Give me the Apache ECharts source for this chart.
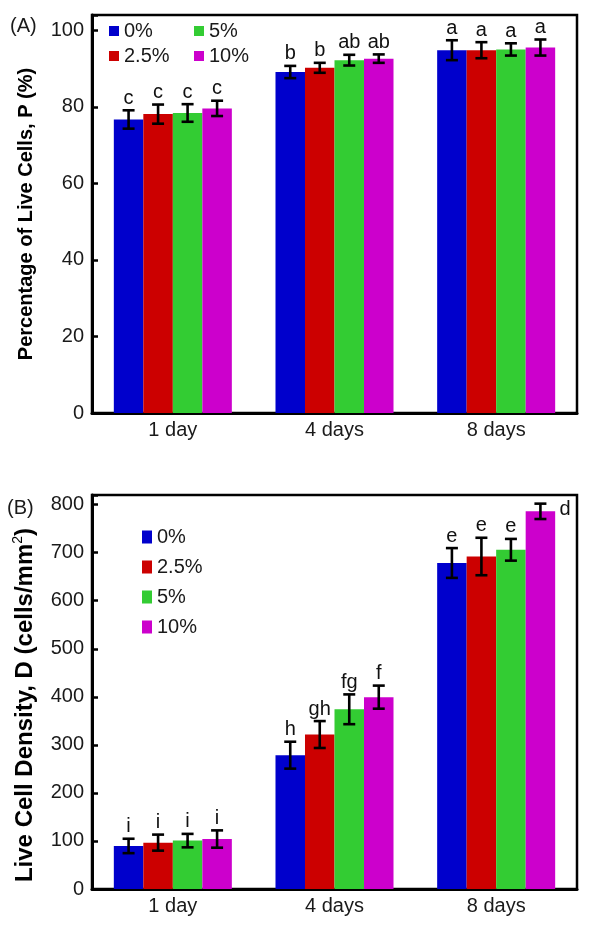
<!DOCTYPE html>
<html>
<head>
<meta charset="utf-8">
<script src="https://cdn.jsdelivr.net/npm/echarts@6/dist/echarts.min.js"></script>
<style>html,body{margin:0;padding:0;background:#fff}#c{width:589px;height:925px}</style>
</head>
<body>
<div id="c"></div>
<script>
// ---- data ----
const categories = ['1 day', '4 days', '8 days'];
const groupNames = ['0%', '2.5%', '5%', '10%'];

// (A) Percentage of live cells
const pct0 = [76.7, 89.1, 94.8];
const pct25 = [78.1, 90.2, 94.8];
const pct5 = [78.4, 92.2, 95.0];
const pct10 = [79.6, 92.6, 95.5];
const pctErr0 = [2.4, 1.6, 2.6];
const pctErr25 = [2.5, 1.3, 2.1];
const pctErr5 = [2.3, 1.4, 1.6];
const pctErr10 = [2.0, 1.1, 2.1];
const pctLetters0 = ['c', 'b', 'a'];
const pctLetters25 = ['c', 'b', 'a'];
const pctLetters5 = ['c', 'ab', 'a'];
const pctLetters10 = ['c', 'ab', 'a'];
const pctTicks = [0, 20, 40, 60, 80, 100];

// (B) Live cell density
const den0 = [89.6, 278.5, 678.5];
const den25 = [96.5, 321.5, 692];
const den5 = [100.7, 374, 706];
const den10 = [104, 399.3, 786];
const denErr0 = [15, 28, 31];
const denErr25 = [16.7, 28, 39];
const denErr5 = [14, 31, 22.6];
const denErr10 = [18, 24, 16];
const denLetters0 = ['i', 'h', 'e'];
const denLetters25 = ['i', 'gh', 'e'];
const denLetters5 = ['i', 'fg', 'e'];
const denLetters10 = ['i', 'f', 'd'];
const denTicks = [0, 100, 200, 300, 400, 500, 600, 700, 800];

// ---- styles ----
const FONT = "'Liberation Sans', Arial, sans-serif";
const COLORS = ['#0000CC', '#CC0000', '#33CC33', '#CC00CC'];
const CAT_GAP = 0.27;

const pctVals = [pct0, pct25, pct5, pct10];
const pctErrs = [pctErr0, pctErr25, pctErr5, pctErr10];
const pctLets = [pctLetters0, pctLetters25, pctLetters5, pctLetters10];
const denVals = [den0, den25, den5, den10];
const denErrs = [denErr0, denErr25, denErr5, denErr10];
const denLets = [denLetters0, denLetters25, denLetters5, denLetters10];

function errData(vals, errs) {
  const out = [];
  for (let s = 0; s < vals.length; s++)
    for (let c = 0; c < categories.length; c++)
      out.push([c, s, vals[s][c], errs[s][c]]);
  return out;
}

function makeRender(lets, rightSide) {
  return function (params, api) {
    const cat = api.value(0), si = api.value(1), v = api.value(2), e = api.value(3);
    const base = api.coord([cat, v]);
    const band = api.size([1, 0])[0];
    const bw = band * (1 - CAT_GAP) / 4;
    const cx = base[0] + (si - 1.5) * bw;
    const yt = api.coord([cat, v + e])[1];
    const yb = api.coord([cat, v - e])[1];
    const cap = 6;
    const st = { stroke: '#000', lineWidth: 2.6 };
    const letter = lets[si][cat];
    const onRight = rightSide && rightSide(cat, si);
    const txt = onRight
      ? { type: 'text', style: { text: letter, x: cx + 19, y: yt + 6, align: 'left', verticalAlign: 'middle', fontSize: 20, fontFamily: FONT, fill: '#111' } }
      : { type: 'text', style: { text: letter, x: cx, y: yt - 2, align: 'center', verticalAlign: 'bottom', fontSize: 20, fontFamily: FONT, fill: '#111' } };
    return {
      type: 'group',
      children: [
        { type: 'line', shape: { x1: cx, y1: yt, x2: cx, y2: yb }, style: st },
        { type: 'line', shape: { x1: cx - cap, y1: yt, x2: cx + cap, y2: yt }, style: st },
        { type: 'line', shape: { x1: cx - cap, y1: yb, x2: cx + cap, y2: yb }, style: st },
        txt
      ]
    };
  };
}

const axisLabelStyle = { fontSize: 20, fontFamily: FONT, color: '#1a1a1a' };

function xAx(gi) {
  return {
    type: 'category', gridIndex: gi, data: categories,
    axisLine: { lineStyle: { color: '#000', width: 3 } },
    axisTick: { show: false },
    axisLabel: Object.assign({ margin: 7 }, axisLabelStyle),
    splitLine: { show: false }
  };
}
function yAx(gi, max, interval, ticks, name, nameStyle, nameGap) {
  return {
    type: 'value', gridIndex: gi, min: 0, max: max, interval: interval,
    axisLine: { show: true, lineStyle: { color: '#000', width: 3 } },
    axisTick: { show: true, inside: true, length: 6, lineStyle: { color: '#000', width: 2.5 } },
    axisLabel: Object.assign({
      margin: 8,
      formatter: function (v) { return ticks.indexOf(v) >= 0 ? String(v) : ''; }
    }, axisLabelStyle),
    splitLine: { show: false },
    name: name, nameLocation: 'middle', nameGap: nameGap, nameRotate: 90,
    nameTextStyle: nameStyle
  };
}

const series = [];
[[pctVals, 0], [denVals, 1]].forEach(([vals, gi]) => {
  vals.forEach((arr, s) => {
    series.push({
      type: 'bar', name: groupNames[s], xAxisIndex: gi, yAxisIndex: gi,
      data: arr, barGap: '0%', barCategoryGap: (CAT_GAP * 100) + '%',
      itemStyle: { color: COLORS[s] }, silent: true, z: 2
    });
  });
});
series.push({
  type: 'custom', xAxisIndex: 0, yAxisIndex: 0, data: errData(pctVals, pctErrs),
  encode: { x: 0, y: 2 }, renderItem: makeRender(pctLets, null), z: 5, silent: true
});
series.push({
  type: 'custom', xAxisIndex: 1, yAxisIndex: 1, data: errData(denVals, denErrs),
  encode: { x: 0, y: 2 },
  renderItem: makeRender(denLets, function (cat, si) { return cat === 2 && si === 3; }),
  z: 5, silent: true
});

const legendText = { fontSize: 20, fontFamily: FONT, color: '#1a1a1a', lineHeight: 20 };
function legend(data, left, top, ih, gap) {
  return {
    data: data, orient: 'vertical', left: left, top: top, icon: 'rect',
    itemWidth: 10, itemHeight: ih, itemGap: gap, padding: 0,
    selectedMode: false, textStyle: legendText
  };
}

const option = {
  animation: false,
  backgroundColor: '#fff',
  textStyle: { fontFamily: FONT },
  title: [
    { text: '(A)', left: 10, top: 16, padding: 0, textStyle: { fontSize: 20, fontWeight: 'normal', fontFamily: FONT, color: '#1a1a1a' } },
    { text: '(B)', left: 7, top: 498, padding: 0, textStyle: { fontSize: 20, fontWeight: 'normal', fontFamily: FONT, color: '#1a1a1a' } }
  ],
  legend: [
    legend(['0%', '2.5%'], 109, 21, 10, 5),
    legend(['5%', '10%'], 194, 21, 10, 5),
    legend(['0%', '2.5%', '5%', '10%'], 142, 527, 13, 10)
  ],
  grid: [
    { left: 92, right: 12, top: 15, height: 398, show: true, borderColor: '#000', borderWidth: 2.5, backgroundColor: 'transparent' },
    { left: 92, right: 12, top: 495, height: 394, show: true, borderColor: '#000', borderWidth: 2.5, backgroundColor: 'transparent' }
  ],
  xAxis: [xAx(0), xAx(1)],
  yAxis: [
    yAx(0, 104, 20, pctTicks, 'Percentage of Live Cells, P (%)',
      { fontSize: 20, fontWeight: 'bold', fontFamily: FONT, color: '#000' }, 56),
    yAx(1, 820, 100, denTicks, '{t|Live Cell Density, D (cells/mm}{s|2}{t|)}',
      { fontFamily: FONT, color: '#000', padding: [0, 26, 0, 0],
        rich: {
          t: { fontSize: 24, fontWeight: 'bold', fontFamily: FONT, color: '#000', lineHeight: 28 },
          s: { fontSize: 14, fontWeight: 'normal', fontFamily: FONT, color: '#000', verticalAlign: 'top' }
        } }, 53)
  ],
  series: series
};

const chart = echarts.init(document.getElementById('c'), null, { renderer: 'canvas' });
chart.setOption(option);
</script>
</body>
</html>
